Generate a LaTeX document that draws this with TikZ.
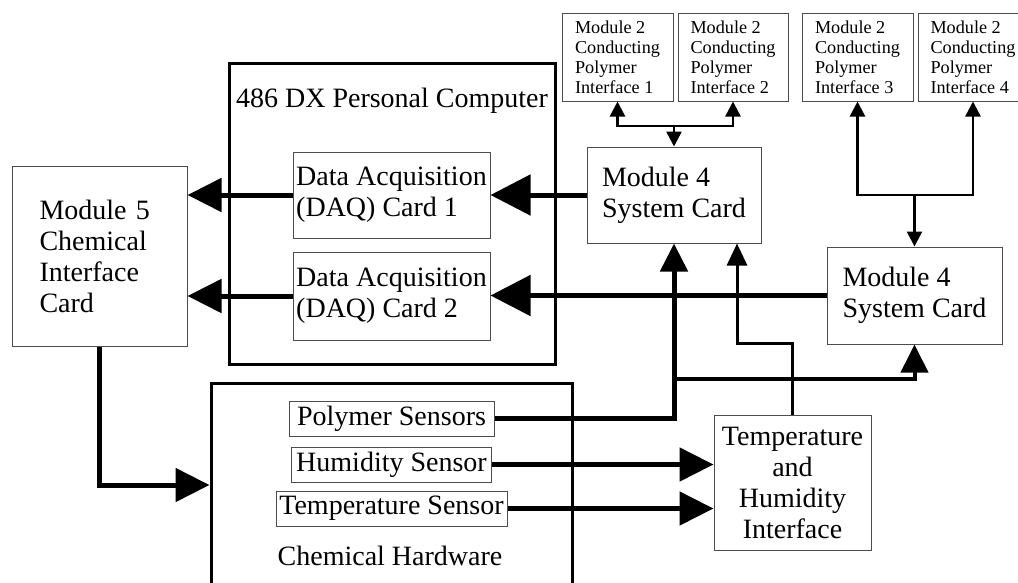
\documentclass[tikz,border=0pt]{standalone}
\usepackage{fontspec}
\setmainfont{Liberation Serif}
\usepackage{tikz}
\usetikzlibrary{arrows.meta,positioning}

\begin{document}
\begin{tikzpicture}[x=1pt, y=-1pt, font=\fontsize{28}{31}\selectfont,
  box/.style={draw=black!70, line width=1pt, inner sep=0pt, align=left},
  frame/.style={draw, line width=3pt, inner sep=0pt},
  ifbox/.style={box, minimum width=110pt, minimum height=88pt,
                font=\fontsize{18.2}{20}\selectfont},
  sensor/.style={box, minimum height=35pt, align=center},
  bigarr/.style={-{Triangle[length=40pt, width=40pt]}, line width=5pt},
  arr/.style={-{Triangle[length=34pt, width=33pt]}, line width=5pt},
  medarr/.style={-{Triangle[length=28pt, width=27pt]}, line width=4pt},
  thinarr/.style={-{Triangle[length=22pt, width=20pt]}, line width=3pt},
  tinyarr/.style={-{Triangle[length=15pt, width=15pt]}, line width=2.5pt}]
\useasboundingbox (0,0) rectangle (1018,582);
% outer frames
\node[frame, minimum width=326pt, minimum height=301pt] (pc) at (392,213.5) {};
\node[anchor=base] (pctitle) at (392,107) {486 DX Personal Computer};
\node[frame, minimum width=361pt, minimum height=204pt] (chem) at (391.5,485) {};
\node[anchor=base] (chemtitle) at (390,565) {Chemical Hardware};
% boxes
\node[box, minimum width=197pt, minimum height=86pt] (daq1) at (391.5,195)
  {Data Acquisition\\(DAQ) Card 1};
\node[box, minimum width=197pt, minimum height=88pt] (daq2) at (391.5,296)
  {Data Acquisition\\(DAQ) Card 2};
\node[box, minimum width=175pt, minimum height=180pt, text width=120pt] (mod5) at (99.5,256)
  {Module 5\\Chemical\\Interface\\Card};
\node[box, minimum width=174pt, minimum height=96pt] (mod4a) at (674,195)
  {Module 4\\System Card};
\node[box, minimum width=175pt, minimum height=97pt] (mod4b) at (914.5,295.5)
  {Module 4\\System Card};
\node[ifbox, minimum width=111pt] (if1) at (617.5,57) {Module 2\\Conducting\\Polymer\\Interface 1};
\node[ifbox, right=4pt of if1] (if2) {Module 2\\Conducting\\Polymer\\Interface 2};
\node[ifbox, minimum width=111pt] (if3) at (857.5,57) {Module 2\\Conducting\\Polymer\\Interface 3};
\node[ifbox, right=4pt of if3] (if4) {Module 2\\Conducting\\Polymer\\Interface 4};
\node[sensor, minimum width=205pt] (poly) at (391.5,418.5) {Polymer Sensors};
\node[sensor, minimum width=200pt, below=10pt of poly] (hum) {Humidity Sensor};
\node[sensor, minimum width=231pt, below=8pt of hum] (temp) {Temperature Sensor};
\node[box, align=center, minimum width=157pt, minimum height=135pt] (th) at (792.5,482.5)
  {Temperature\\and\\Humidity\\Interface};
% junctions
\coordinate (jtop) at (674,126);
\coordinate (jright) at (914.5,195);
\coordinate (jpoly) at (674,379);
\coordinate (bend) at (737,343);
% connectors
\draw[bigarr] (mod4a) -- (daq1);
\draw[arr] (daq1) -- (daq1 -| mod5.east);
\draw[bigarr] (mod4b) -- (mod4b -| daq2.east);
\draw[arr] (daq2) -- (daq2 -| mod5.east);
\draw[arr] (mod5) |- (chem);
\draw[medarr, line width=5pt] (poly) -| (jpoly) -- (mod4a);
\draw[medarr] (jpoly) -| (mod4b);
\draw[thinarr] (th) |- (bend) -- (bend |- mod4a.south);
\draw[arr] (hum) -- (hum -| th.west);
\draw[arr] (temp) -- (temp -| th.west);
\draw[tinyarr] (jtop) -| (if1);
\draw[tinyarr] (jtop) -| (if2);
\draw[tinyarr] (jtop) -- (mod4a);
\draw[tinyarr] (jright) -| (if3);
\draw[tinyarr] (jright) -| (if4);
\draw[tinyarr] (jright) -- (mod4b);
\end{tikzpicture}
\end{document}
